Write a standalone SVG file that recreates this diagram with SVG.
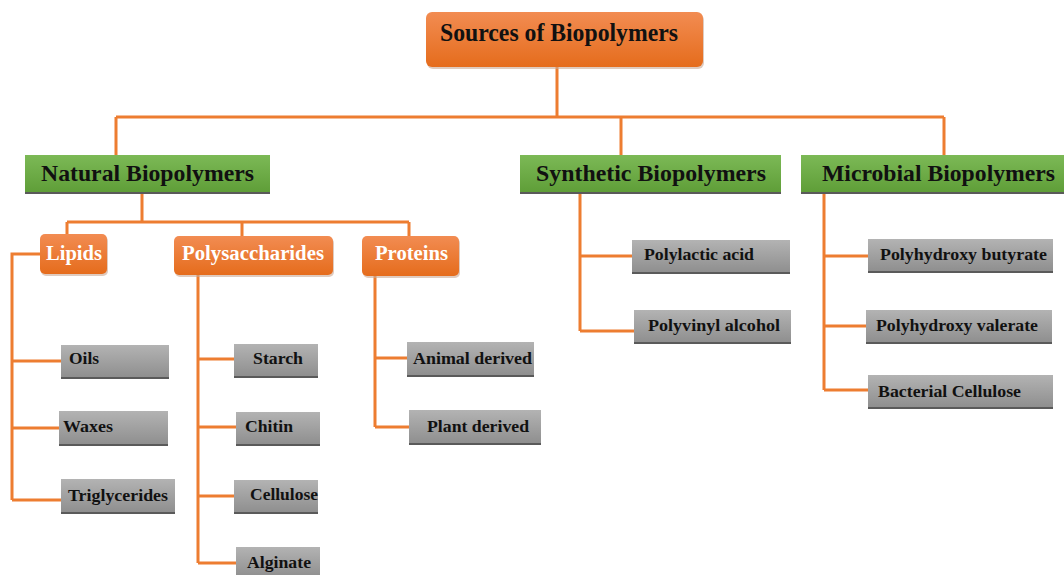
<svg xmlns="http://www.w3.org/2000/svg" width="1064" height="575" viewBox="0 0 1064 575">
<defs>
<linearGradient id="gOr" x1="0" y1="0" x2="0" y2="1"><stop offset="0" stop-color="#f28c52"/><stop offset="1" stop-color="#e56c1c"/></linearGradient>
<linearGradient id="gGr" x1="0" y1="0" x2="0" y2="1"><stop offset="0" stop-color="#7cb956"/><stop offset="1" stop-color="#5f9e38"/></linearGradient>
<linearGradient id="gGy" x1="0" y1="0" x2="0" y2="1"><stop offset="0" stop-color="#b3b3b3"/><stop offset="1" stop-color="#8f8f8f"/></linearGradient>
</defs>
<style>
.c{fill:none;stroke:#ed7d31;stroke-width:3}
.or{fill:url(#gOr)}
.gr{fill:url(#gGr)}
.gy{fill:url(#gGy)}
.sh{fill:#5a5a5a}
.osh{fill:#c9a894;opacity:0.6}
text{font-family:"Liberation Serif","Times New Roman",serif;font-weight:bold}
.t1{font-size:25px;fill:#111}
.t2{font-size:23px;fill:#111}
.t3{font-size:20px;fill:#fff}
.t4{font-size:17px;fill:#111}
</style>
<g id="connectors">
<path class="c" d="M557,67 V117 M116,117 H944 M116,117 V155 M621,117 V155 M944,117 V155"/>
<path class="c" d="M142,193 V222 M67,222 H409 M67,222 V235 M242,222 V236 M409,222 V236"/>
<path class="c" d="M40,254 H12 V500 M12,361 H61 M12,428 H59 M12,500 H61"/>
<path class="c" d="M198,275 V563 M198,359 H234 M198,427 H236 M198,496 H234 M198,563 H236"/>
<path class="c" d="M375,276 V427 M375,358 H407 M375,427 H409"/>
<path class="c" d="M580,193 V331 M580,256 H632 M580,331 H634"/>
<path class="c" d="M824,193 V390 M824,256 H868 M824,326 H866 M824,390 H868"/>
</g>
<g id="n-root">
<rect class="osh" x="427" y="14" width="277" height="55" rx="6"/>
<rect class="or" x="426" y="12" width="277" height="55" rx="6"/>
<text class="t1" x="440" y="41" textLength="238" lengthAdjust="spacingAndGlyphs">Sources of Biopolymers</text>
</g>
<g id="n-natural">
<rect class="sh" x="25" y="155" width="245" height="39"/>
<rect class="gr" x="25" y="155" width="245" height="37"/>
<text class="t2" x="41" y="181" textLength="213" lengthAdjust="spacingAndGlyphs">Natural Biopolymers</text>
</g>
<g id="n-synthetic">
<rect class="sh" x="520" y="155" width="261" height="39"/>
<rect class="gr" x="520" y="155" width="261" height="37"/>
<text class="t2" x="536" y="181" textLength="230" lengthAdjust="spacingAndGlyphs">Synthetic Biopolymers</text>
</g>
<g id="n-microbial">
<rect class="sh" x="801" y="155" width="263" height="39"/>
<rect class="gr" x="801" y="155" width="263" height="37"/>
<text class="t2" x="822" y="181" textLength="233" lengthAdjust="spacingAndGlyphs">Microbial Biopolymers</text>
</g>
<g id="n-lipids">
<rect class="osh" x="41" y="236" width="67" height="40" rx="5"/>
<rect class="or" x="40" y="234" width="67" height="40" rx="5"/>
<text class="t3" x="46" y="260" textLength="56" lengthAdjust="spacingAndGlyphs">Lipids</text>
</g>
<g id="n-polysaccharides">
<rect class="osh" x="175" y="238" width="159" height="39" rx="5"/>
<rect class="or" x="174" y="236" width="159" height="39" rx="5"/>
<text class="t3" x="182" y="260" textLength="142" lengthAdjust="spacingAndGlyphs">Polysaccharides</text>
</g>
<g id="n-proteins">
<rect class="osh" x="363" y="238" width="97" height="40" rx="5"/>
<rect class="or" x="362" y="236" width="97" height="40" rx="5"/>
<text class="t3" x="375" y="260" textLength="73" lengthAdjust="spacingAndGlyphs">Proteins</text>
</g>
<g id="n-oils"><rect class="sh" x="61" y="345" width="108" height="34"/><rect class="gy" x="61" y="345" width="108" height="32"/><text class="t4" x="69" y="364" textLength="30" lengthAdjust="spacingAndGlyphs">Oils</text></g>
<g id="n-waxes"><rect class="sh" x="59" y="411" width="109" height="35"/><rect class="gy" x="59" y="411" width="109" height="33"/><text class="t4" x="63" y="432" textLength="50" lengthAdjust="spacingAndGlyphs">Waxes</text></g>
<g id="n-triglycerides"><rect class="sh" x="61" y="479" width="114" height="35"/><rect class="gy" x="61" y="479" width="114" height="33"/><text class="t4" x="68" y="501" textLength="100" lengthAdjust="spacingAndGlyphs">Triglycerides</text></g>
<g id="n-starch"><rect class="sh" x="234" y="344" width="84" height="34"/><rect class="gy" x="234" y="344" width="84" height="32"/><text class="t4" x="253" y="364" textLength="50" lengthAdjust="spacingAndGlyphs">Starch</text></g>
<g id="n-chitin"><rect class="sh" x="236" y="412" width="84" height="34"/><rect class="gy" x="236" y="412" width="84" height="32"/><text class="t4" x="245" y="432" textLength="48" lengthAdjust="spacingAndGlyphs">Chitin</text></g>
<g id="n-cellulose"><rect class="sh" x="234" y="480" width="84" height="34"/><rect class="gy" x="234" y="480" width="84" height="32"/><text class="t4" x="250" y="500" textLength="68" lengthAdjust="spacingAndGlyphs">Cellulose</text></g>
<g id="n-alginate"><rect class="gy" x="236" y="547" width="84" height="30"/><text class="t4" x="247" y="568" textLength="64" lengthAdjust="spacingAndGlyphs">Alginate</text></g>
<g id="n-animal"><rect class="sh" x="407" y="342" width="127" height="35"/><rect class="gy" x="407" y="342" width="127" height="33"/><text class="t4" x="413" y="364" textLength="119" lengthAdjust="spacingAndGlyphs">Animal derived</text></g>
<g id="n-plant"><rect class="sh" x="409" y="410" width="132" height="35"/><rect class="gy" x="409" y="410" width="132" height="33"/><text class="t4" x="427" y="432" textLength="102" lengthAdjust="spacingAndGlyphs">Plant derived</text></g>
<g id="n-pla"><rect class="sh" x="632" y="240" width="158" height="34"/><rect class="gy" x="632" y="240" width="158" height="32"/><text class="t4" x="644" y="260" textLength="110" lengthAdjust="spacingAndGlyphs">Polylactic acid</text></g>
<g id="n-pva"><rect class="sh" x="634" y="310" width="157" height="34"/><rect class="gy" x="634" y="310" width="157" height="32"/><text class="t4" x="648" y="331" textLength="132" lengthAdjust="spacingAndGlyphs">Polyvinyl alcohol</text></g>
<g id="n-phb"><rect class="sh" x="868" y="239" width="185" height="34"/><rect class="gy" x="868" y="239" width="185" height="32"/><text class="t4" x="880" y="260" textLength="167" lengthAdjust="spacingAndGlyphs">Polyhydroxy butyrate</text></g>
<g id="n-phv"><rect class="sh" x="866" y="310" width="186" height="34"/><rect class="gy" x="866" y="310" width="186" height="32"/><text class="t4" x="876" y="331" textLength="162" lengthAdjust="spacingAndGlyphs">Polyhydroxy valerate</text></g>
<g id="n-bc"><rect class="sh" x="868" y="375" width="185" height="34"/><rect class="gy" x="868" y="375" width="185" height="32"/><text class="t4" x="878" y="397" textLength="143" lengthAdjust="spacingAndGlyphs">Bacterial Cellulose</text></g>
</svg>
